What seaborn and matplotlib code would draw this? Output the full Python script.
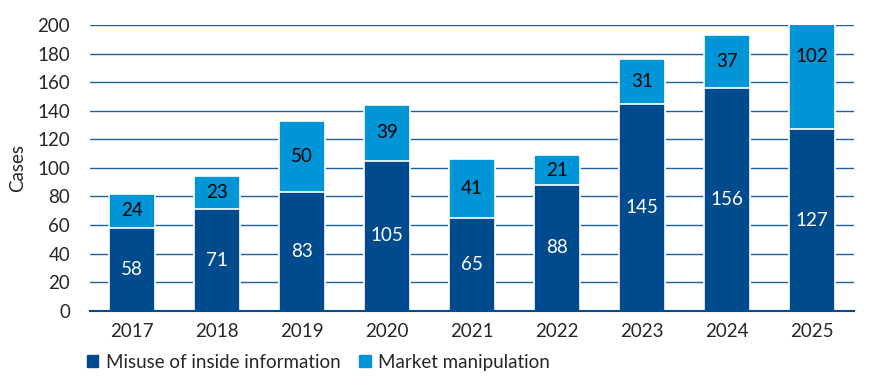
import numpy as np
import pandas as pd
import matplotlib
matplotlib.use("Agg")
import matplotlib.pyplot as plt
from matplotlib.patches import Patch
import seaborn as sns

# Data
years = ["2017", "2018", "2019", "2020", "2021", "2022", "2023", "2024", "2025"]
inside_info = [58, 71, 83, 105, 65, 88, 145, 156, 127]
manipulation = [24, 23, 50, 39, 41, 21, 31, 37, 102]

dark = "#004b8d"
light = "#0095d6"
grid_col = "#1f5f9f"
fs = 13.5

sns.set_style("white")
plt.rcParams["font.family"] = ["Lato", "DejaVu Sans"]

df = pd.DataFrame({"year": years, "inside": inside_info, "manip": manipulation})
df["total"] = df["inside"] + df["manip"]

fig, ax = plt.subplots(figsize=(8.7, 3.86), dpi=100)
fig.subplots_adjust(left=0.103, right=0.982, top=0.935, bottom=0.195)

# total bars (light) then bottom segment (dark) on top
sns.barplot(data=df, x="year", y="total", color=light, width=0.54,
            edgecolor="white", linewidth=1.2, saturation=1, ax=ax, zorder=3)
sns.barplot(data=df, x="year", y="inside", color=dark, width=0.54,
            edgecolor="white", linewidth=1.2, saturation=1, ax=ax, zorder=4)

for i, (a, b) in enumerate(zip(inside_info, manipulation)):
    ax.text(i, a / 2, str(a), ha="center", va="center", color="white",
            fontsize=fs, zorder=5)
    ax.text(i, a + b / 2, str(b), ha="center", va="center", color="black",
            fontsize=fs, zorder=5)

ax.set_ylim(0, 200)
ax.set_xlim(-0.5, len(years) - 0.5)
ax.set_yticks(np.arange(0, 201, 20))
ax.yaxis.grid(True, color=grid_col, linewidth=1)
ax.set_axisbelow(True)
ax.set_xlabel("")
ax.set_ylabel("Cases", fontsize=fs, labelpad=8)

for s in ["top", "right", "left"]:
    ax.spines[s].set_visible(False)
ax.spines["bottom"].set_color(dark)
ax.spines["bottom"].set_linewidth(1.5)
ax.spines["bottom"].set_zorder(6)

ax.tick_params(axis="x", which="major", length=0, labelsize=fs, pad=9)
ax.set_xticks(np.arange(-0.5, len(years), 1), minor=True)
ax.tick_params(axis="x", which="minor", length=6, width=1.5, color=dark,
               direction="out")
ax.tick_params(axis="y", length=0, labelsize=fs, pad=14)

handles = [Patch(color=dark, label="Misuse of inside information"),
           Patch(color=light, label="Market manipulation")]
ax.legend(handles=handles, loc="upper left", bbox_to_anchor=(-0.013, -0.125),
          ncol=2, frameon=False, fontsize=fs, handlelength=0.6,
          handleheight=0.6, handletextpad=0.4, columnspacing=1.0,
          borderaxespad=0)

fig.savefig("out.png", dpi=100)
